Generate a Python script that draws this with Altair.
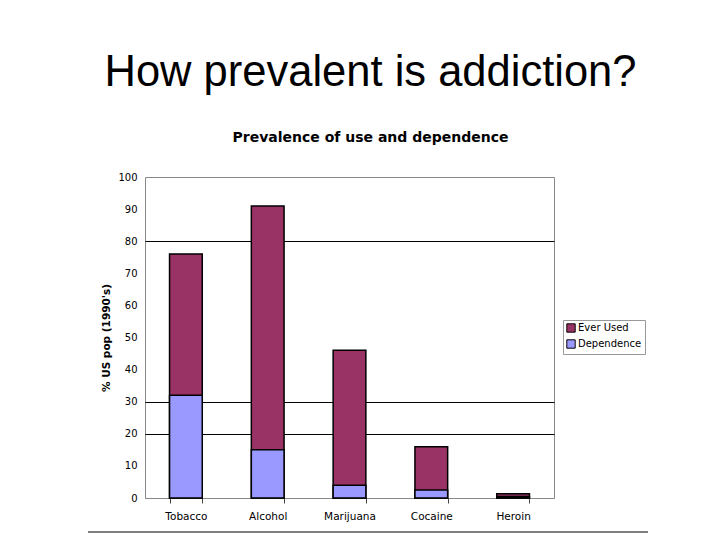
import altair as alt
import pandas as pd

categories = ["Tobacco", "Alcohol", "Marijuana", "Cocaine", "Heroin"]
ever_used = [76, 91, 46, 16, 1.3]
dependence = [32, 15, 4, 2.5, 0.5]
series_names = ["Ever Used", "Dependence"]
series_colors = ["#993366", "#9999FF"]
y_ticks = list(range(0, 101, 10))
grid_values = [20, 30, 80]

rows = []
for c, v in zip(categories, ever_used):
    rows.append({"drug": c, "series": "Ever Used", "value": v, "ord": 0})
for c, v in zip(categories, dependence):
    rows.append({"drug": c, "series": "Dependence", "value": v, "ord": 1})
df = pd.DataFrame(rows)

font = "DejaVu Sans"
grid_expr = "indexof([" + ",".join(str(g) for g in grid_values) + "], datum.value) >= 0 ? 1 : 0"

bars = alt.Chart(df).mark_bar(stroke="black", strokeWidth=1.5).encode(
    x=alt.X("drug:N", sort=categories, title=None,
            scale=alt.Scale(paddingInner=0.6, paddingOuter=0.3),
            axis=alt.Axis(labelAngle=0, labelFont=font, labelFontSize=10.5,
                          labelColor="black", labelPadding=8, tickBand="extent",
                          ticks=True, tickSize=5, tickColor="#444", domainColor="#888",
                          grid=False)),
    y=alt.Y("value:Q", stack=None, title="% US pop (1990's)",
            scale=alt.Scale(domain=[0, 100], nice=False),
            axis=alt.Axis(values=y_ticks, labelFont=font, labelFontSize=10,
                          labelColor="black", labelPadding=8, ticks=False,
                          domain=False, titleFont=font, titleFontSize=10.5,
                          titleFontWeight="bold", titleColor="black", titlePadding=6,
                          grid=True, gridColor="black", gridWidth=1.2,
                          gridOpacity=alt.ExprRef(grid_expr))),
    color=alt.Color("series:N", scale=alt.Scale(domain=series_names, range=series_colors),
                    legend=alt.Legend(title=None, orient="none", legendX=418, legendY=143,
                                      labelFont=font, labelFontSize=10, labelColor="black",
                                      symbolType="square", symbolSize=70,
                                      symbolStrokeColor="black", symbolStrokeWidth=1,
                                      strokeColor="#999", padding=3, rowPadding=2,
                                      labelOffset=2)),
    order=alt.Order("ord:Q"),
)

line = alt.Chart(pd.DataFrame({"a": [0]})).mark_rule(color="black", strokeWidth=1).encode(
    x=alt.value(-57), x2=alt.value(503), y=alt.value(355)
)

chart = alt.layer(bars, line).properties(
    width=409, height=321,
    autosize=alt.AutoSizeParams(type="none"),
    padding={"left": 137, "top": 169, "right": 150, "bottom": 45},
    title=alt.TitleParams(
        text="How prevalent is addiction?",
        subtitle="Prevalence of use and dependence",
        font="Liberation Sans", fontSize=43.5, fontWeight="normal", color="black",
        subtitleFont=font, subtitleFontSize=14, subtitleFontWeight="bold",
        subtitleColor="black", subtitlePadding=36, offset=26, anchor="middle", dx=21,
    ),
).configure_view(stroke="#888", strokeWidth=1)

chart.save("out.html", embed_options={"renderer": "svg", "actions": False})
